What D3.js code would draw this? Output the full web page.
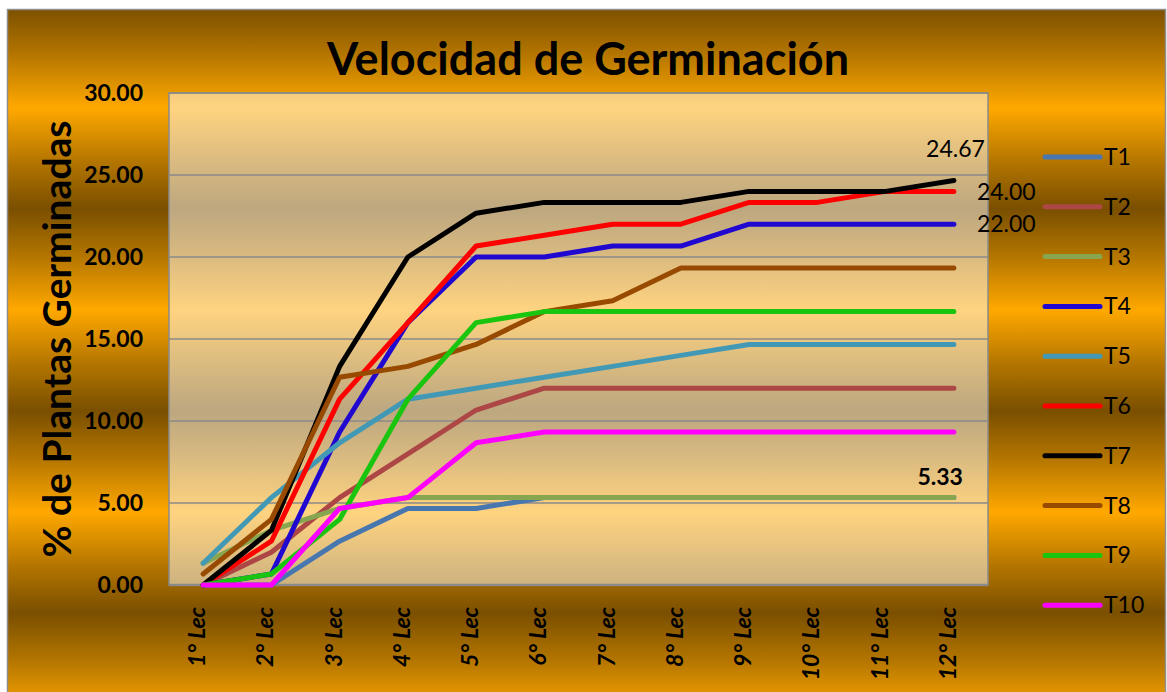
<!DOCTYPE html>
<html>
<head>
<meta charset="utf-8">
<script src="https://cdn.jsdelivr.net/npm/d3@7"></script>
<style>
  body { margin: 0; background: #ffffff; }
  svg { display: block; font-family: Lato, "Open Sans", sans-serif; }
</style>
</head>
<body>
<svg id="chart" width="1167" height="692"></svg>
<script>
// lecturas (eje x)
var categories = ["1° Lec", "2° Lec", "3° Lec", "4° Lec", "5° Lec", "6° Lec",
                  "7° Lec", "8° Lec", "9° Lec", "10° Lec", "11° Lec", "12° Lec"];
var yTicks = [0, 5, 10, 15, 20, 25, 30];

// % de plantas germinadas por tratamiento
var T1  = [0, 0, 2.67, 4.67, 4.67, 5.33, 5.33, 5.33, 5.33, 5.33, 5.33, 5.33];
var T2  = [0, 2, 5.33, 8, 10.67, 12, 12, 12, 12, 12, 12, 12];
var T3  = [1.33, 3.33, 4.67, 5.33, 5.33, 5.33, 5.33, 5.33, 5.33, 5.33, 5.33, 5.33];
var T4  = [0, 0.67, 9.33, 16, 20, 20, 20.67, 20.67, 22, 22, 22, 22];
var T5  = [1.33, 5.33, 8.67, 11.33, 12, 12.67, 13.33, 14, 14.67, 14.67, 14.67, 14.67];
var T6  = [0, 2.67, 11.33, 16, 20.67, 21.33, 22, 22, 23.33, 23.33, 24, 24];
var T7  = [0, 3.33, 13.33, 20, 22.67, 23.33, 23.33, 23.33, 24, 24, 24, 24.67];
var T8  = [0.67, 4, 12.67, 13.33, 14.67, 16.67, 17.33, 19.33, 19.33, 19.33, 19.33, 19.33];
var T9  = [0, 0.67, 4, 11.33, 16, 16.67, 16.67, 16.67, 16.67, 16.67, 16.67, 16.67];
var T10 = [0, 0, 4.67, 5.33, 8.67, 9.33, 9.33, 9.33, 9.33, 9.33, 9.33, 9.33];

var seriesNames = ["T1", "T2", "T3", "T4", "T5", "T6", "T7", "T8", "T9", "T10"];
var seriesValues = [T1, T2, T3, T4, T5, T6, T7, T8, T9, T10];
var seriesColors = ["#4877b0", "#ac4746", "#88a650", "#2008d0", "#4299b5",
                    "#ff0000", "#000000", "#984a00", "#1ac510", "#ff00ff"];

var series = seriesNames.map(function(name, i) {
  return { name: name, values: seriesValues[i], color: seriesColors[i] };
});

var svg = d3.select("#chart"),
  W = +svg.attr("width"),
  H = +svg.attr("height"),
  margin = { top: 93, right: 179, bottom: 107, left: 169 },
  width = W - margin.left - margin.right,
  height = H - margin.top - margin.bottom;

// fondo dorado con bandas
var defs = svg.append("defs");
var gold = defs.append("linearGradient")
  .attr("id", "gold")
  .attr("gradientUnits", "userSpaceOnUse")
  .attr("spreadMethod", "repeat")
  .attr("x1", 0).attr("y1", 7)
  .attr("x2", 0).attr("y2", 209);
gold.append("stop").attr("offset", "0%").attr("stop-color", "#7a4f00");
gold.append("stop").attr("offset", "22%").attr("stop-color", "#b07300");
gold.append("stop").attr("offset", "50%").attr("stop-color", "#ffa800");
gold.append("stop").attr("offset", "78%").attr("stop-color", "#b07300");
gold.append("stop").attr("offset", "100%").attr("stop-color", "#7a4f00");

svg.append("rect")
  .attr("x", 7.5).attr("y", 9.5)
  .attr("width", W - 9).attr("height", H)
  .attr("fill", "url(#gold)")
  .attr("stroke", "#8e8e8e")
  .attr("stroke-width", 1.5);

var x = d3.scalePoint()
  .domain(categories)
  .range([0, width])
  .padding(0.5);
var y = d3.scaleLinear()
  .domain([0, 30])
  .range([height, 0]);

var g = svg.append("g")
  .attr("transform", "translate(" + margin.left + "," + margin.top + ")");

// area de trazado
g.append("rect")
  .attr("width", width).attr("height", height)
  .attr("transform", "translate(" + (-margin.left) + "," + (-margin.top) + ")")
  .attr("x", margin.left).attr("y", margin.top)
  .attr("fill", "url(#gold)");
g.append("rect")
  .attr("width", width).attr("height", height)
  .attr("fill", "#ffffff")
  .attr("fill-opacity", 0.5);

// lineas de division
g.append("g")
  .selectAll("line")
  .data(yTicks)
  .enter()
  .append("line")
  .attr("x1", 0).attr("x2", width)
  .attr("y1", function(d) { return y(d); })
  .attr("y2", function(d) { return y(d); })
  .attr("stroke", "#8a8a8a")
  .attr("stroke-width", function(d) { return d === 0 ? 2.5 : 1.5; });
g.append("rect")
  .attr("width", width).attr("height", height)
  .attr("fill", "none")
  .attr("stroke", "#8a8a8a")
  .attr("stroke-width", 1.5);

// eje y
var yAxis = g.append("g")
  .call(d3.axisLeft(y).tickValues(yTicks).tickFormat(d3.format(".2f")).tickSize(0).tickPadding(26));
yAxis.select(".domain").remove();
yAxis.selectAll("text")
  .attr("fill", "#000")
  .attr("font-family", "Lato, sans-serif")
  .attr("font-size", "23px")
  .attr("font-weight", "bold");

// eje x
g.append("g")
  .attr("class", "axis axis--x")
  .selectAll("text")
  .data(categories)
  .enter()
  .append("text")
  .attr("transform", function(d) {
    return "translate(" + (x(d) - 6) + "," + (height + 22) + ") rotate(-90)";
  })
  .attr("dy", "0.35em")
  .attr("text-anchor", "end")
  .attr("font-size", "23px")
  .attr("font-weight", "bold")
  .attr("font-style", "italic")
  .text(function(d) { return d; });

// series
var line = d3.line()
  .x(function(d, i) { return x(categories[i]); })
  .y(function(d) { return y(d); });

g.append("g")
  .selectAll("path")
  .data(series)
  .enter()
  .append("path")
  .attr("d", function(d) { return line(d.values); })
  .attr("fill", "none")
  .attr("stroke", function(d) { return d.color; })
  .attr("stroke-width", 5)
  .attr("stroke-linecap", "round")
  .attr("stroke-linejoin", "round");

// etiquetas de datos (ultimo punto)
var last = categories[categories.length - 1];
var labels = [
  { s: T7, dx: 31, dy: -23, anchor: "end", weight: "normal" },
  { s: T6, dx: 23, dy: 9, anchor: "start", weight: "normal" },
  { s: T4, dx: 23, dy: 8, anchor: "start", weight: "normal" },
  { s: T3, dx: 9, dy: -13, anchor: "end", weight: "bold" }
];
g.append("g")
  .selectAll("text")
  .data(labels)
  .enter()
  .append("text")
  .attr("x", function(d) { return x(last) + d.dx; })
  .attr("y", function(d) { return y(d.s[d.s.length - 1]) + d.dy; })
  .attr("text-anchor", function(d) { return d.anchor; })
  .attr("font-weight", function(d) { return d.weight; })
  .attr("font-size", "23px")
  .text(function(d) { return d.s[d.s.length - 1].toFixed(2); });

// titulo
svg.append("text")
  .attr("x", 588)
  .attr("y", 75)
  .attr("text-anchor", "middle")
  .attr("font-size", "45px")
  .attr("font-weight", "bold")
  .text("Velocidad de Germinación");

svg.append("text")
  .attr("transform", "translate(57," + (margin.top + height / 2) + ") rotate(-90)")
  .attr("dy", "0.35em")
  .attr("text-anchor", "middle")
  .attr("font-size", "39px")
  .attr("font-weight", "bold")
  .text("% de Plantas Germinadas");

// leyenda
var legend = svg.append("g")
  .selectAll("g")
  .data(series)
  .enter()
  .append("g")
  .attr("transform", function(d, i) {
    return "translate(1045," + (157 + i * 49.8) + ")";
  });
legend.append("line")
  .attr("x1", 0).attr("x2", 55)
  .attr("stroke", function(d) { return d.color; })
  .attr("stroke-width", 5)
  .attr("stroke-linecap", "round");
legend.append("text")
  .attr("x", 59)
  .attr("dy", "0.35em")
  .attr("font-size", "23px")
  .text(function(d) { return d.name; });
</script>
</body>
</html>
